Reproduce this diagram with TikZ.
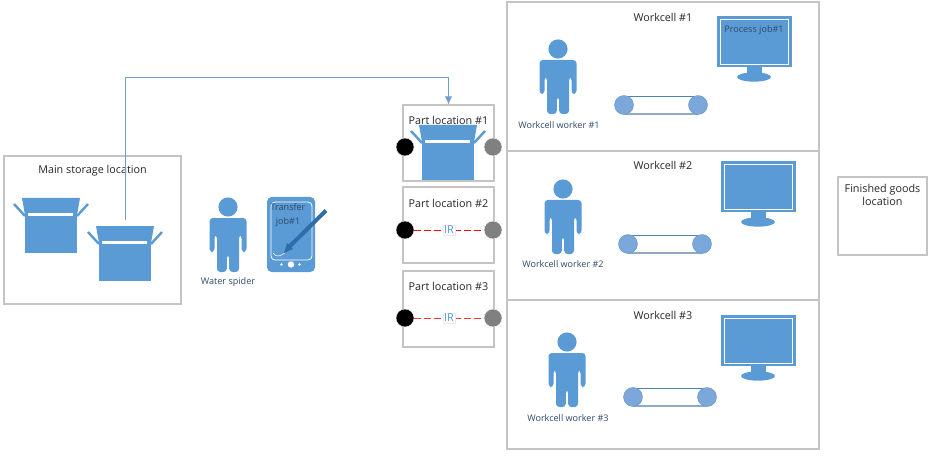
\documentclass[tikz,border=0pt]{standalone}
\usepackage{fontspec}
\setmainfont{Open Sans}
\usetikzlibrary{arrows.meta}
\definecolor{mblue}{HTML}{5B9BD5}
\definecolor{lblue}{HTML}{7BA7DB}
\definecolor{dblue}{HTML}{2F6EA8}
\definecolor{frame}{HTML}{C4C4C4}
\definecolor{ltxt}{HTML}{2F4A6B}
\definecolor{arrowc}{HTML}{6F9FD0}
\tikzset{
  framebox/.style 2 args={draw=frame,line width=.85pt,fill=white,inner sep=0pt,minimum width=#1*0.75pt,minimum height=#2*0.75pt},
  title/.style={font=\fontsize{8.1pt}{10.4pt}\selectfont,text=black!85,align=center,inner sep=0pt},
  small/.style={font=\fontsize{6.8pt}{8pt}\selectfont,text=ltxt,align=center,inner sep=0pt},
  sensorA/.style={circle,fill=black,draw=white,line width=.3pt,minimum size=13.5pt,inner sep=0pt},
  sensorB/.style={circle,fill=black!50,draw=white,line width=.3pt,minimum size=13.5pt,inner sep=0pt},
  beam/.style={red,line width=.7pt,dash pattern=on 5pt off 2.5pt},
  irtag/.style={fill=white,draw=black!8,line width=.3pt,text=mblue,font=\fontsize{8.2pt}{9pt}\selectfont,inner sep=1pt},
  person/.pic={
    \fill[mblue] (0,0) circle[radius=7.2pt];
    \fill[mblue,rounded corners=2.5pt] (-18.5,45) -- (-18.5,11) -- (18.5,11) -- (18.5,45) -- (13.5,45) -- (13.5,28) -- (11,28) -- (11,65) -- (1.2,65) -- (1.2,48) -- (-1.2,48) -- (-1.2,65) -- (-11,65) -- (-11,28) -- (-13.5,28) -- (-13.5,45) -- cycle;
  },
  carton/.pic={
    \fill[mblue] (-26,0) rectangle (26,39);
    \fill[mblue] (-29,-16) -- (29,-16) -- (26,1) -- (-26,1) -- cycle;
    \draw[mblue,line width=1.8pt] (-26,2) -- (-37,-10);
    \draw[mblue,line width=1.8pt] (26,2) -- (37,-10);
    \fill[white] (-23,-1) rectangle (22,2);
  },
  monitor/.pic={
    \fill[mblue] (717,16) rectangle (792,67);
    \draw[white,line width=.6pt] (720,19) rectangle (788.5,64);
    \fill[mblue] (747,67) rectangle (762,74);
    \fill[mblue] (754,77) ellipse[x radius=12.7pt,y radius=3.5pt];
  },
  conveyor/.pic={
    \fill[white] (624,96) rectangle (698,114);
    \draw[dblue!85,line width=.7pt] (624,96) -- (698,96);
    \draw[black!20!lblue,line width=.9pt,opacity=.7] (624,114) -- (698,114);
    \fill[lblue,draw=dblue!70,line width=.4pt] (624,105) circle[radius=7.1pt];
    \fill[lblue,draw=dblue!70,line width=.4pt] (698,105) circle[radius=7.1pt];
  }
}
\begin{document}
\begin{tikzpicture}[x=.75pt,y=-.75pt]
\useasboundingbox (0,0) rectangle (935,456);
% frames
\node[framebox={177}{148}] (storage) at (92.5,230) {};
\node[framebox={91}{76}] (partone) at (448.5,143) {};
\node[framebox={91}{76}] (parttwo) at (448.5,225) {};
\node[framebox={91}{76}] (partthree) at (448.5,309) {};
\node[framebox={312}{149}] (cellone) at (663,76.5) {};
\node[framebox={312}{149}] (celltwo) at (663,225.5) {};
\node[framebox={312}{149}] (cellthree) at (663,374.5) {};
\node[framebox={89}{78}] (finished) at (882.5,216) {};
% titles
\node[title] (tstorage) at (92.5,171) {Main storage location};
\node[title] (tone) at (448.5,120) {Part location \#1};
\node[title] (ttwo) at (448.5,203) {Part location \#2};
\node[title] (tthree) at (448.5,286) {Part location \#3};
\node[title] (cone) at (663,17) {Workcell \#1};
\node[title] (ctwo) at (663,165) {Workcell \#2};
\node[title] (cthree) at (663,315) {Workcell \#3};
\node[title] (tfinished) at (882.5,195) {Finished goods\\location};
% cartons
\pic at (51,214) {carton};
\pic at (125,242) {carton};
\pic at (448,141) {carton};
% connector
\coordinate (src) at (125,220);
\coordinate (bend) at (300,77);
\draw[arrowc,line width=.65pt,-{Latex[length=6pt,width=5.5pt]}] (src) -- (src|-bend) -- (partone.north|-bend) -- (partone.north);
% sensors
\node[sensorA] (aone) at (405,147) {};
\node[sensorB] (bone) at (493,147) {};
\node[sensorA] (atwo) at (405,230) {};
\node[sensorB] (btwo) at (493,230) {};
\node[sensorA] (athree) at (405,318) {};
\node[sensorB] (bthree) at (493,318) {};
\draw[beam] (atwo) -- (btwo);
\draw[beam,red!80!white] (athree) -- (bthree);
\node[irtag] (irtwo) at (449,230) {IR};
\node[irtag] (irthree) at (449,318) {IR};
% people
\pic at (228,207) {person};
\pic at (558,49) {person};
\pic at (563,189) {person};
\pic at (567,342) {person};
\node[small] (lspider) at (228,282) {Water spider};
\node[small] (lwone) at (559,125) {Workcell worker \#1};
\node[small] (lwtwo) at (563,264) {Workcell worker \#2};
\node[small] (lwthree) at (568,418) {Workcell worker \#3};
% tablet
\fill[mblue,rounded corners=3.5pt] (267,197) rectangle (315,272);
\draw[white,line width=.6pt,rounded corners=3pt] (271,202) rectangle (312,260);
\fill[white] (291,264.5) circle[radius=2.4pt];
\fill[white] (281.5,264.5) circle[radius=1.1pt];
\fill[white] (299.5,264.5) circle[radius=1.1pt];
\draw[white,line width=.4pt] (273,253) .. controls (277,258) and (280,256) .. (285,253);
\draw[dblue,line width=3pt] (326,210.5) -- (289,247);
\fill[dblue] (287,243) -- (293,249) -- (284,253) -- cycle;
\node[small,font=\fontsize{6.8pt}{10.5pt}\selectfont] (ttablet) at (288,215) {Transfer\\job\#1};
% monitors
\pic at (0,0) {monitor};
\pic at (4,145) {monitor};
\pic at (4,299) {monitor};
\node[small] (tjob) at (754,30) {Process job\#1};
% conveyors
\pic at (0,0) {conveyor};
\pic at (4,139) {conveyor};
\pic at (9,292) {conveyor};
\end{tikzpicture}
\end{document}
